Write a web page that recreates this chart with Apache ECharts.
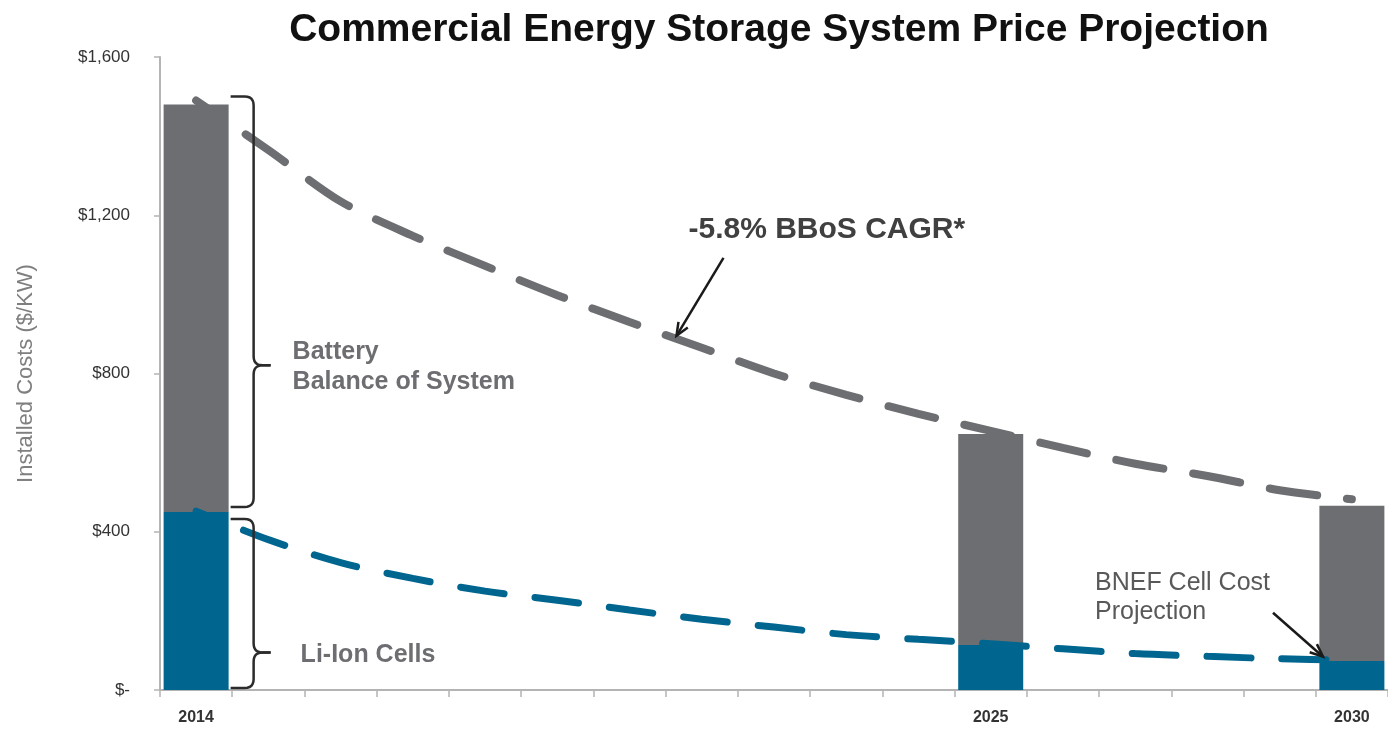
<!DOCTYPE html>
<html>
<head>
<meta charset="utf-8">
<title>Commercial Energy Storage System Price Projection</title>
<script src="https://cdn.jsdelivr.net/npm/echarts@6/dist/echarts.min.js"></script>
<style>
  html, body { margin: 0; padding: 0; background: #fff; }
  #chart { width: 1388px; height: 738px; }
</style>
</head>
<body>
<div id="chart"></div>
<script>
// categories: one per year, bars only in 2014 / 2025 / 2030
const years = ['2014', '2015', '2016', '2017', '2018', '2019', '2020', '2021', '2022',
  '2023', '2024', '2025', '2026', '2027', '2028', '2029', '2030']
const shownYears = ['2014', '2025', '2030']

// stacked bars ($/kW)
const cellBars = [450, '-', '-', '-', '-', '-', '-', '-', '-', '-', '-', 114, '-', '-', '-', '-', 73]
const bbosBars = [1030, '-', '-', '-', '-', '-', '-', '-', '-', '-', '-', 533, '-', '-', '-', '-', 393]

// dashed projections ($/kW)
const totalTrend = [1490, 1365, 1235, 1148, 1072, 998, 930, 865, 800, 746, 698, 655, 612, 572, 541, 505, 482]
const cellTrend = [452, 380, 322, 282, 250, 227, 202, 179, 159, 140, 128, 117, 104, 92, 85, 79, 75]

const yTicks = [0, 400, 800, 1200, 1600]

const GRAY = '#6d6e71'
const BLUE = '#00668f'
const FONT = '"Liberation Sans", Arial, sans-serif'

const chart = echarts.init(document.getElementById('chart'))

const option = {
  animation: false,
  title: {
    text: 'Commercial Energy Storage System Price Projection',
    left: 774,
    textAlign: 'center',
    top: 6,
    textStyle: { fontFamily: FONT, fontSize: 39, fontWeight: 'bold', color: '#111' }
  },
  grid: { left: 160, right: 0, top: 57, bottom: 48, outerBoundsMode: 'none' },
  xAxis: {
    type: 'category',
    data: years,
    axisLine: { lineStyle: { color: '#b4b4b4', width: 2 } },
    axisTick: { show: true, interval: 0, length: 7, lineStyle: { color: '#b4b4b4', width: 1.5 } },
    axisLabel: {
      interval: 0,
      margin: 20,
      fontFamily: FONT,
      fontSize: 16,
      fontWeight: 'bold',
      color: '#333',
      formatter: v => (shownYears.includes(v) ? v : '')
    }
  },
  yAxis: {
    type: 'value',
    min: yTicks[0],
    max: yTicks[yTicks.length - 1],
    interval: 400,
    name: 'Installed Costs ($/KW)',
    nameLocation: 'middle',
    nameGap: 123,
    nameRotate: 90,
    nameTextStyle: { fontFamily: FONT, fontSize: 22, color: '#7f7f7f' },
    axisLine: { show: true, lineStyle: { color: '#b4b4b4', width: 2 } },
    axisTick: { show: true, length: 6, lineStyle: { color: '#b4b4b4', width: 1.5 } },
    splitLine: { show: false },
    axisLabel: {
      margin: 30,
      fontFamily: FONT,
      fontSize: 17,
      color: '#333',
      formatter: v => (v === 0 ? '$-' : '$' + v.toLocaleString('en-US'))
    }
  },
  series: [
    {
      name: 'Li-Ion Cells',
      type: 'bar',
      stack: 'cost',
      barWidth: '90%',
      data: cellBars,
      itemStyle: { color: BLUE },
      z: 2
    },
    {
      name: 'Battery Balance of System',
      type: 'bar',
      stack: 'cost',
      barWidth: '90%',
      data: bbosBars,
      itemStyle: { color: GRAY },
      z: 2
    },
    {
      name: 'Total projection',
      type: 'line',
      data: totalTrend,
      smooth: 0.3,
      symbol: 'none',
      lineStyle: { color: GRAY, width: 8, type: [48, 30], dashOffset: 18, cap: 'round' },
      z: 5
    },
    {
      name: 'Cell projection',
      type: 'line',
      data: cellTrend,
      smooth: 0.3,
      symbol: 'none',
      lineStyle: { color: BLUE, width: 7, type: [44, 31], dashOffset: 24, cap: 'round' },
      z: 5
    }
  ]
}

chart.setOption(option)

// annotations placed from the chart's own scales
function px(i, v) {
  return chart.convertToPixel({ xAxisIndex: 0, yAxisIndex: 0 }, [i, v])
}

function lerp(a, b, t) {
  return [a[0] + (b[0] - a[0]) * t, a[1] + (b[1] - a[1]) * t]
}

// quadratic curve sampled into points
function quad(p0, c, p1, out) {
  for (let k = 1; k <= 6; k++) {
    const t = k / 6
    const u = 1 - t
    out.push([u * u * p0[0] + 2 * u * t * c[0] + t * t * p1[0],
      u * u * p0[1] + 2 * u * t * c[1] + t * t * p1[1]])
  }
}

// right curly brace "}" as two polylines (upper and lower half)
function bracePoints(x0, xv, xm, y1, y2, ym, r) {
  const upper = [[x0, y1], [xv - r, y1]]
  quad([xv - r, y1], [xv, y1], [xv, y1 + r], upper)
  upper.push([xv, ym - r])
  quad([xv, ym - r], [xv, ym], [xv + r, ym], upper)
  upper.push([xm, ym])
  const lower = [[xm, ym], [xv + r, ym]]
  quad([xv + r, ym], [xv, ym], [xv, ym + r], lower)
  lower.push([xv, y2 - r])
  quad([xv, y2 - r], [xv, y2], [xv - r, y2], lower)
  lower.push([x0, y2])
  return [upper, lower]
}

function braceGraphics(pts) {
  return pts.map(p => ({
    type: 'polyline',
    shape: { points: p },
    style: { stroke: '#2b2b2b', lineWidth: 2.5, fill: null },
    z: 10
  }))
}

function arrow(tail, tip, color) {
  const ang = Math.atan2(tip[1] - tail[1], tip[0] - tail[0])
  const len = 14
  const spread = 0.4
  const p1 = [tip[0] - len * Math.cos(ang - spread), tip[1] - len * Math.sin(ang - spread)]
  const p2 = [tip[0] - len * Math.cos(ang + spread), tip[1] - len * Math.sin(ang + spread)]
  return [
    { type: 'line', shape: { x1: tail[0], y1: tail[1], x2: tip[0], y2: tip[1] },
      style: { stroke: color, lineWidth: 2.5 }, z: 10 },
    { type: 'polyline', shape: { points: [p1, tip, p2] },
      style: { stroke: color, lineWidth: 2.5, fill: null }, z: 10 }
  ]
}

function drawAnnotations() {
  const bandW = px(1, 0)[0] - px(0, 0)[0]
  const barRight = px(0, 0)[0] + bandW * 0.45
  const totalTop = px(0, cellBars[0] + bbosBars[0])[1]
  const cellTop = px(0, cellBars[0])[1]
  const base = px(0, 0)[1]

  const x0 = barRight + 2
  const xv = barRight + 25
  const xm = barRight + 42

  // big brace: balance of system
  const b1y1 = totalTop - 8
  const b1y2 = cellTop - 5
  const b1ym = b1y1 + (b1y2 - b1y1) * 0.655
  // small brace: cells
  const b2y1 = cellTop + 7
  const b2y2 = base - 2
  const b2ym = b2y1 + (b2y2 - b2y1) * 0.79

  const tipA = lerp(px(6, totalTrend[6]), px(7, totalTrend[7]), 0.65)
  tipA[1] -= 3
  const tailA = [tipA[0] + 47, tipA[1] - 78]

  const i30 = years.indexOf('2030')
  const tipB = lerp(px(i30 - 1, cellTrend[i30 - 1]), px(i30, cellTrend[i30]), 0.6)
  tipB[1] -= 3
  const tailB = [tipB[0] - 50, tipB[1] - 44]

  const textFont = { fontFamily: FONT, fontSize: 25 }

  chart.setOption({
    graphic: braceGraphics(bracePoints(x0, xv, xm, b1y1, b1y2, b1ym, 9))
      .concat(braceGraphics(bracePoints(x0, xv, xm, b2y1, b2y2, b2ym, 9)))
      .concat([
        { type: 'text', x: xm + 22, y: b1ym + 2,
          style: Object.assign({ text: 'Battery\nBalance of System', fill: GRAY, fontWeight: 'bold',
            lineHeight: 30, verticalAlign: 'middle' }, textFont), z: 10 },
        { type: 'text', x: xm + 30, y: b2ym + 3,
          style: Object.assign({ text: 'Li-Ion Cells', fill: GRAY, fontWeight: 'bold',
            verticalAlign: 'middle' }, textFont), z: 10 },
        { type: 'text', x: tailA[0] - 35, y: tailA[1] - 28,
          style: { text: '-5.8% BBoS CAGR*', fill: '#404040', fontFamily: FONT, fontSize: 30,
            fontWeight: 'bold', verticalAlign: 'middle' }, z: 10 },
        { type: 'text', x: tailB[0] - 178, y: tailB[1] - 15,
          style: Object.assign({ text: 'BNEF Cell Cost\nProjection', fill: '#595959',
            lineHeight: 29, verticalAlign: 'middle' }, textFont), z: 10 }
      ])
      .concat(arrow(tailA, tipA, '#1a1a1a'), arrow(tailB, tipB, '#1a1a1a'))
  })
}

drawAnnotations()
</script>
</body>
</html>
